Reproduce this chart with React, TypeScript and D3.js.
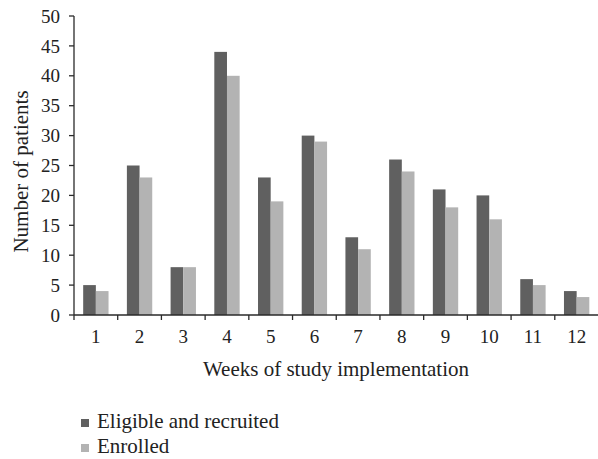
import React from "react";
import * as d3 from "d3";

const weeks = ["1", "2", "3", "4", "5", "6", "7", "8", "9", "10", "11", "12"];
const eligible = [5, 25, 8, 44, 23, 30, 13, 26, 21, 20, 6, 4];
const enrolled = [4, 23, 8, 40, 19, 29, 11, 24, 18, 16, 5, 3];
const yTicks = [0, 5, 10, 15, 20, 25, 30, 35, 40, 45, 50];
const seriesNames = ["Eligible and recruited", "Enrolled"];
const colors = ["#606060", "#b3b3b3"];

const W = 598;
const H = 459;
const left = 74;
const right = 598.5;
const y0 = 315;
const y50 = 16;
const font = "'Liberation Serif', 'DejaVu Serif', serif";

export default function App() {
  const x = d3.scaleBand<string>().domain(weeks).range([left, right]).paddingInner(0).paddingOuter(0);
  const bw = x.bandwidth();
  const inner = d3
    .scaleBand<string>()
    .domain(["a", "b"])
    .range([bw * 0.21, bw * 0.79])
    .padding(0);
  const y = d3.scaleLinear().domain([0, 50]).range([y0, y50]);
  const series = [eligible, enrolled];
  const axisColor = "#2a2a2a";

  return (
    <svg
      width={W}
      height={H}
      style={{ position: "absolute", left: 0, top: 0, background: "#fff" }}
      fontFamily={font}
    >
      {weeks.map((w, i) =>
        series.map((s, k) => (
          <rect
            key={w + "-" + k}
            x={(x(w) as number) + (inner(k === 0 ? "a" : "b") as number)}
            y={y(s[i])}
            width={inner.bandwidth()}
            height={y0 - y(s[i])}
            fill={colors[k]}
          />
        ))
      )}
      <line x1={left} x2={left} y1={y(50)} y2={y0} stroke={axisColor} strokeWidth={1.3} />
      {yTicks.map((t) => (
        <g key={t}>
          <line x1={left - 5} x2={left} y1={y(t)} y2={y(t)} stroke={axisColor} strokeWidth={1.3} />
          <text x={left - 14} y={y(t)} dy="0.35em" textAnchor="end" fontSize={19} fill="#222">
            {t}
          </text>
        </g>
      ))}
      <line x1={left} x2={right} y1={y0} y2={y0} stroke={axisColor} strokeWidth={1.3} />
      {weeks.map((w) => (
        <line
          key={"t" + w}
          x1={x(w) as number}
          x2={x(w) as number}
          y1={y0}
          y2={y0 + 5}
          stroke={axisColor}
          strokeWidth={1.3}
        />
      ))}
      {weeks.map((w) => (
        <text
          key={"l" + w}
          x={(x(w) as number) + bw / 2}
          y={343}
          textAnchor="middle"
          fontSize={19}
          fill="#222"
        >
          {w}
        </text>
      ))}
      <text x={336} y={376} textAnchor="middle" fontSize={21} fill="#222">
        Weeks of study implementation
      </text>
      <text
        transform={`translate(28,${(y0 + y50) / 2 + 6}) rotate(-90)`}
        textAnchor="middle"
        fontSize={21}
        fill="#222"
      >
        Number of patients
      </text>
      {seriesNames.map((n, k) => (
        <g key={n} transform={`translate(81,${428 + k * 25})`}>
          <rect x={0} y={-9} width={8} height={8} fill={colors[k]} />
          <text x={16} y={0} fontSize={21} fill="#222">
            {n}
          </text>
        </g>
      ))}
    </svg>
  );
}
